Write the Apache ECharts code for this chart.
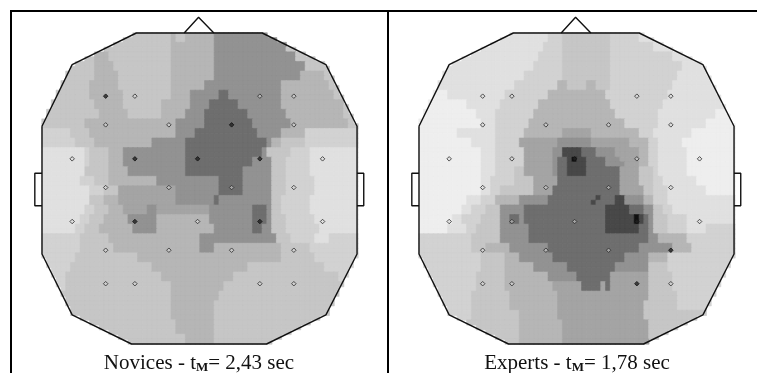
<!DOCTYPE html>
<html><head><meta charset="utf-8">
<style>html,body{margin:0;padding:0;background:#fff}#c{width:757px;height:373px;filter:blur(.35px)}</style>
<script src="https://cdn.jsdelivr.net/npm/echarts@6/dist/echarts.min.js"></script>
</head><body><div id="c"></div>
<script>
// Gray level of each map shade (0 black .. 255 white)
const shades = {a:0xEE,b:0xE0,c:0xD2,d:0xC6,e:0xB6,f:0xA4,g:0x92,h:0x6E,j:0x48,k:0x10};
// Map rows: "<row count>|<shade><end column> ..."
const novicesRows = [
"2|d27 e28 d30 e36 g66","2|d27 e36 g51 d66","2|d11 e14 d27 e36 g53 d66","2|d11 e15 d27 e36 g55 d66",
"2|d11 e16 d27 e36 g54 e59 d66","2|d10 e16 d27 e34 g50 e60 d66","2|d10 e17 d27 e31 g37 h39 g50 e61 d66",
"2|d11 e17 d25 e31 g35 h41 g50 e63 d66","2|d12 e18 d25 e30 g34 h43 g51 e63 d66","2|d9 e28 g34 h44 g52 e64 d66",
"2|c6 d10 e28 g32 h45 g50 e55 c66","2|c7 d11 e23 g30 h47 g48 e50 d55 c66","2|b9 c10 d14 e17 g30 h46 g47 d52 c56 b66",
"2|b9 c10 d14 e17 g30 h44 g48 d51 c56 b66","2|b9 d14 e18 g30 h42 g48 d51 c56 b66","2|b8 c11 d14 e24 g37 h42 g48 d51 c57 b66",
"2|b10 c13 d16 f28 g37 h42 g48 d51 c57 b66","2|b10 d13 e16 f28 g36 h37 g48 d50 c56 b66",
"2|b9 c11 d14 e17 f22 g24 f35 g44 h47 g48 d50 c56 b66","2|b8 c10 d13 e18 g24 e35 g44 h47 g48 d51 c57 b66",
"2|b7 c9 d12 e19 g24 e36 g44 h46 g48 d51 c58 b66","2|c8 d14 e33 g49 d52 c57 b60 c66","2|c8 d15 e33 g36 e50 d56 c66",
"2|c7 d20 e50 d57 c66","2|c6 d23 e43 d59 c66","2|c5 d25 e40 d62 c66","2|c5 d27 e38 d66","2|d27 e37 d66","2|d27 e36 d66",
"2|d27 e36 d66","3|d28 e36 d66","2|d30 e36 d66"];
const expertsRows = [
"2|b27 c30 d40 c46 b66","2|b26 c30 d40 c49 b66","2|b25 c30 d40 c53 b66","2|b24 c30 d40 c55 b66","2|b22 c30 d40 c54 b66",
"2|b20 c29 e31 d35 e37 d40 c53 b66","2|a6 b18 c27 e39 c52 b66","2|a10 b17 c25 e40 c51 b66","2|a12 b16 c24 e41 c50 b62 a66",
"2|a13 b16 c23 e43 c50 b60 a66","2|a8 b16 c22 e30 f36 e46 c49 b57 a66","2|a11 b16 c21 f29 g36 f44 e48 c50 b55 a66",
"2|a13 b16 c22 f28 g30 j34 h37 g41 f46 e48 c50 b56 a66",
"1|a13 b16 c22 f28 g29 h31 j32 k33 j35 h39 g42 f46 e48 c50 b56 a66",
"1|a13 b16 c22 f28 g29 h31 j35 h39 g43 f46 e48 c50 b56 a66",
"2|a13 b16 c20 d22 f28 g29 h31 j35 h42 f46 d49 c50 b56 a66","2|a13 b15 c20 d24 f29 h42 f46 d49 c51 b58 a66",
"2|a13 b15 c17 d24 f28 h42 f47 d49 c52 b60 a66",
"1|a10 b13 c16 e21 g27 h37 j38 h41 j43 g47 e49 c52 b66","1|a10 b13 c16 e21 g27 h36 j37 h41 j43 g47 e49 c52 b66",
"2|a9 b11 c14 d17 g22 h39 j44 h47 g49 d51 c53 b66","2|a7 b9 c13 d17 g19 h21 g22 h39 j45 k46 j47 h48 g49 d52 c56 b66",
"2|a6 b10 c12 d17 g23 h39 j46 h48 g49 d52 c56 b60 c66","2|c11 d17 g23 h48 g50 e56 c66","2|c11 d14 e19 g27 h46 g53 e57 c66",
"2|c13 d18 e21 g28 h43 g48 e52 c66","2|c13 d18 e24 g31 h41 g48 d52 c66","2|c12 d18 e27 g33 h40 f48 d53 c66",
"2|c12 d18 e28 f34 h38 f39 h40 f48 d53 c66","2|c11 d19 e29 f48 d54 c66","2|c11 d19 e29 f47 d54 c66","2|c11 d21 e29 f47 d66",
"5|d21 e30 f48 d66"];
// Head drawing in map cells
const headOutline = [[0,19.5],[6.3,6.6],[19.7,0],[46,0],[59.3,6.6],[65.8,19.5],[65.8,46.2],[59.3,58.9],[46.9,65],[18.7,65],[6.3,58.9],[0,46.2],[0,19.5]];
const nose = [[29.7,0],[32.7,-3.3],[35.9,0]];
const leftEar = [[0,29.3],[-1.5,29.3],[-1.5,36.1],[0,36.1]];
const rightEar = [[65.8,29.3],[67.2,29.3],[67.2,36.1],[65.8,36.1]];
// Electrode positions
const electrodes = [
[13.3,13.2],[19.4,13.2],[45.5,13.2],[52.6,13.2],
[13.3,19.2],[26.5,19.2],[39.6,19.2],[52.6,19.2],
[6.3,26.3],[19.4,26.3],[32.5,26.3],[45.5,26.3],[58.6,26.3],
[13.3,32.3],[26.5,32.3],[39.6,32.3],[52.6,32.3],
[6.3,39.4],[19.4,39.4],[32.5,39.4],[45.5,39.4],[58.6,39.4],
[13.3,45.4],[26.5,45.4],[39.6,45.4],[52.6,45.4],
[13.3,52.4],[19.4,52.4],[45.5,52.4],[52.6,52.4]];
const novicesDarkMarks = [0,6,9,10,11,18,20];
const expertsDarkMarks = [10,20,25,28];
const panelTitles = ["Novices - t","Experts - t"];
const panelSubs = ["M","M"];
const panelTails = ["= 2,43 sec","= 1,78 sec"];

function inside(x,y,p){let c=false;for(let i=0,j=p.length-1;i<p.length;j=i++){
  if((p[i][1]>y)!==(p[j][1]>y)&&x<(p[j][0]-p[i][0])*(y-p[i][1])/(p[j][1]-p[i][1])+p[i][0])c=!c;}return c;}
function gray(v){const h=v.toString(16).padStart(2,'0');return '#'+h+h+h;}
function expand(rows){const out=[];let r=0;
  rows.forEach(s=>{const [n,t]=s.split('|');const toks=t.split(' ');
    for(let k=0;k<+n;k++,r++){let c=0;toks.forEach(tok=>{const end=+tok.slice(1);const v=shades[tok[0]];
      for(;c<end;c++){if(inside(c+.5,r+.5,headOutline))out.push({value:[c,r,v],itemStyle:{color:gray(v),borderColor:gray(v),borderWidth:.6}});}});}});
  return out;}
const cols=[...Array(66).keys()],rws=[...Array(65).keys()];
const lefts=[42,419],topY=33,W=316,H=311,CW=W/66,CH=H/65;
const grid=[],xAxis=[],yAxis=[],series=[],title=[];
const rowsBy=[novicesRows,expertsRows],darkBy=[novicesDarkMarks,expertsDarkMarks];
const titleCentre=[194,572];
lefts.forEach((l,p)=>{
  const g=p*2;
  grid.push({left:l,top:topY,width:W,height:H},{left:l-3*CW,top:topY-4*CH,width:72*CW,height:70*CH});
  xAxis.push({type:'category',gridIndex:g,data:cols,show:false},{type:'value',gridIndex:g+1,min:-3,max:69,show:false});
  yAxis.push({type:'category',gridIndex:g,data:rws,inverse:true,show:false},{type:'value',gridIndex:g+1,min:-4,max:66,inverse:true,show:false});
  series.push({type:'heatmap',xAxisIndex:g,yAxisIndex:g,data:expand(rowsBy[p]),progressive:0,silent:true});
  [headOutline,nose,leftEar,rightEar].forEach(d=>series.push({type:'line',xAxisIndex:g+1,yAxisIndex:g+1,data:d,symbol:'none',silent:true,z:3,
    lineStyle:{color:'#111',width:1.4}}));
  series.push({type:'scatter',xAxisIndex:g+1,yAxisIndex:g+1,symbol:'diamond',symbolSize:4.5,silent:true,z:4,
    data:electrodes.map((e,i)=>({value:e,itemStyle:darkBy[p].includes(i)?{color:'#222',borderColor:'#111',borderWidth:1}:{color:'rgba(220,220,220,.6)',borderColor:'#2a2a2a',borderWidth:1}}))});
  title.push({text:`{a|${panelTitles[p]}}{s|${panelSubs[p]}}{a|${panelTails[p]}}`,left:titleCentre[p],top:348,textAlign:'center',
    textStyle:{fontFamily:'Liberation Serif',rich:{a:{fontFamily:'Liberation Serif',fontSize:21,color:'#111',fontWeight:'normal'},s:{fontFamily:'Liberation Serif',fontSize:13,color:'#111',padding:[8,0,0,0]}}}});
});
const chart=echarts.init(document.getElementById('c'),null,{renderer:'canvas',width:757,height:373});
chart.setOption({animation:false,backgroundColor:'#fff',grid,xAxis,yAxis,series,title,
  graphic:[
    {type:'rect',shape:{x:10,y:10,width:747,height:2},style:{fill:'#000'}},
    {type:'rect',shape:{x:10,y:10,width:2,height:363},style:{fill:'#000'}},
    {type:'rect',shape:{x:387,y:10,width:2,height:363},style:{fill:'#000'}}
  ]});
</script></body></html>
